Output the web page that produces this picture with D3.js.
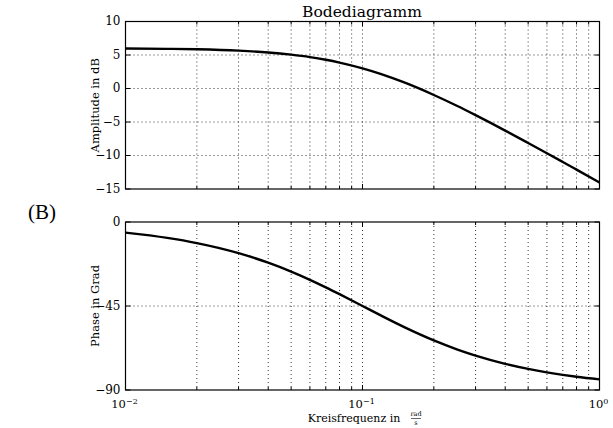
<!DOCTYPE html>
<html>
<head>
<meta charset="utf-8">
<script src="https://cdn.jsdelivr.net/npm/d3@7"></script>
<style>
  body { margin: 0; background: #fff; }
</style>
</head>
<body>
<div id="chart"></div>
<script>
// frequency points (rad/s)
const freq = [0.01, 0.015, 0.02, 0.03, 0.04, 0.05, 0.06, 0.07, 0.08, 0.1,
  0.12, 0.15, 0.2, 0.25, 0.3, 0.4, 0.5, 0.6, 0.7, 0.8, 1.0];
// amplitude in dB
const ampDb = [5.98, 5.92, 5.85, 5.65, 5.38, 5.05, 4.69, 4.29, 3.87, 3.01,
  2.15, 0.90, -0.97, -2.58, -3.98, -6.28, -8.13, -9.66, -10.97, -12.11, -14.02];
// phase in degrees
const phaseDeg = [-5.71, -8.53, -11.31, -16.70, -21.80, -26.57, -30.96, -34.99, -38.66, -45.0,
  -50.19, -56.31, -63.43, -68.20, -71.57, -75.96, -78.69, -80.54, -81.87, -82.87, -84.29];

const ampTicks = [10, 5, 0, -5, -10, -15];
const phaseTicks = [0, -45, -90];
const decades = [-2, -1, 0];

const width = 613, height = 428;
const left = 125.5, right = 599.5;
const serif = "'DejaVu Serif', serif";

const svg = d3.select('#chart').append('svg')
    .attr('width', width)
    .attr('height', height)
    .attr('font-family', serif);

const x = d3.scaleLog().domain([0.01, 1]).range([left, right]);

// every decade tick 1..9 inside the range
const minor = [];
[0.01, 0.1].forEach(b => d3.range(1, 10).forEach(k => minor.push(b * k)));
minor.push(1);

function panel(top, bottom, domain, ticks, values, label) {
  const y = d3.scaleLinear().domain(domain).range([bottom, top]);
  const g = svg.append('g');

  // grid
  g.selectAll('.vg').data(minor.filter(f => f > 0.0101 && f < 0.99)).enter()
    .append('line')
      .attr('x1', d => x(d)).attr('x2', d => x(d))
      .attr('y1', top).attr('y2', bottom)
      .attr('stroke', '#000').attr('stroke-width', 0.8)
      .attr('stroke-dasharray', '1,3');
  g.selectAll('.hg').data(ticks.slice(1, -1)).enter()
    .append('line')
      .attr('x1', left).attr('x2', right)
      .attr('y1', d => y(d)).attr('y2', d => y(d))
      .attr('stroke', '#000').attr('stroke-width', 0.8)
      .attr('stroke-dasharray', '1,3');

  // inward ticks
  minor.forEach(f => {
    const len = decades.some(p => Math.abs(Math.log10(f) - p) < 1e-6) ? 5 : 3;
    g.append('line').attr('x1', x(f)).attr('x2', x(f))
      .attr('y1', bottom).attr('y2', bottom - len).attr('stroke', '#000');
    g.append('line').attr('x1', x(f)).attr('x2', x(f))
      .attr('y1', top).attr('y2', top + len).attr('stroke', '#000');
  });
  ticks.forEach(t => {
    g.append('line').attr('x1', left).attr('x2', left + 5)
      .attr('y1', y(t)).attr('y2', y(t)).attr('stroke', '#000');
    g.append('line').attr('x1', right).attr('x2', right - 5)
      .attr('y1', y(t)).attr('y2', y(t)).attr('stroke', '#000');
  });

  g.append('rect')
      .attr('x', left).attr('y', top)
      .attr('width', right - left).attr('height', bottom - top)
      .attr('fill', 'none').attr('stroke', '#000').attr('stroke-width', 1.2);

  // tick labels
  g.selectAll('.yl').data(ticks).enter()
    .append('text')
      .attr('x', left - 5).attr('y', d => y(d))
      .attr('dy', '0.32em')
      .attr('text-anchor', 'end')
      .attr('font-size', 12)
      .text(d => d < 0 ? '\u2212' + Math.abs(d) : d);

  g.append('text')
      .attr('transform', `translate(99,${(top + bottom) / 2}) rotate(-90)`)
      .attr('text-anchor', 'middle')
      .attr('font-size', 11.5)
      .text(label);

  const line = d3.line()
      .x((d, i) => x(freq[i]))
      .y(d => y(d))
      .curve(d3.curveMonotoneX);

  g.append('path')
      .datum(values)
      .attr('d', line)
      .attr('fill', 'none')
      .attr('stroke', '#000')
      .attr('stroke-width', 2.4);
}

panel(21.5, 189, [-15, 10], ampTicks, ampDb, 'Amplitude in dB');
panel(222, 390, [-90, 0], phaseTicks, phaseDeg, 'Phase in Grad');

svg.append('text')
    .attr('x', 362).attr('y', 17)
    .attr('text-anchor', 'middle')
    .attr('font-size', 15.5)
    .text('Bodediagramm');

// decade labels
decades.forEach(p => {
  const t = svg.append('text')
      .attr('x', x(Math.pow(10, p)) - 1).attr('y', 408)
      .attr('text-anchor', 'middle')
      .attr('font-size', 11.5);
  t.append('tspan').text('10');
  t.append('tspan').attr('dy', -4.5).attr('font-size', 8)
      .text(p < 0 ? '\u2212' + Math.abs(p) : p);
});

svg.append('text')
    .attr('x', 354).attr('y', 422)
    .attr('text-anchor', 'middle')
    .attr('font-size', 11)
    .text('Kreisfrequenz in');
svg.append('text')
    .attr('x', 416).attr('y', 416)
    .attr('text-anchor', 'middle')
    .attr('font-size', 6.5)
    .text('rad');
svg.append('line')
    .attr('x1', 411).attr('x2', 421)
    .attr('y1', 418.5).attr('y2', 418.5)
    .attr('stroke', '#000').attr('stroke-width', 0.6);
svg.append('text')
    .attr('x', 416).attr('y', 425)
    .attr('text-anchor', 'middle')
    .attr('font-size', 6.5)
    .text('s');

svg.append('text')
    .attr('x', 42).attr('y', 219)
    .attr('text-anchor', 'middle')
    .attr('font-family', "'Liberation Serif', serif")
    .attr('font-size', 21)
    .text('(B)');
</script>
</body>
</html>
